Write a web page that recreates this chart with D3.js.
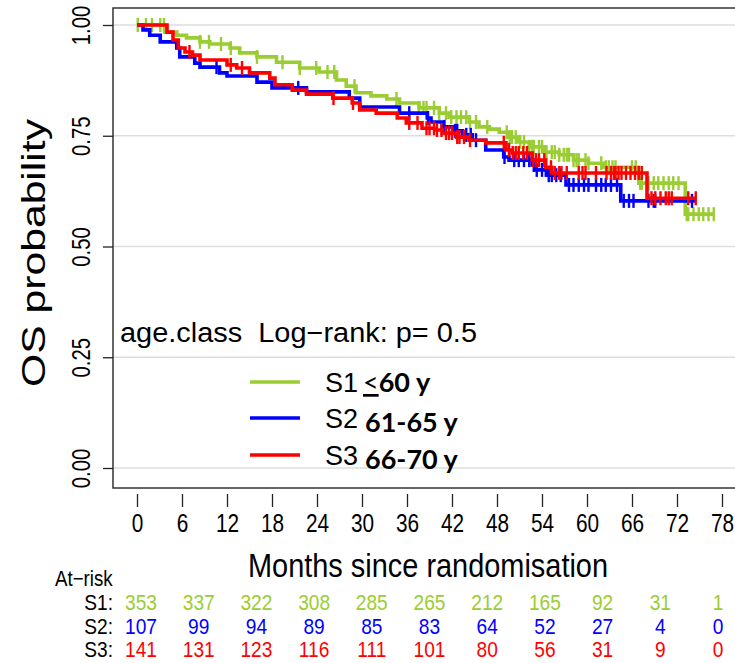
<!DOCTYPE html>
<html><head><meta charset="utf-8">
<script src="https://cdn.jsdelivr.net/npm/d3@7"></script>
<style>body{margin:0;background:#fff}text{font-family:"Liberation Sans",Arial,sans-serif;}</style>
</head><body>
<svg id="chart" width="735" height="663"></svg>
<script>
// ---- data ----
const seriesNames = ["S1", "S2", "S3"];
const seriesLabels = ["60 y", "61-65 y", "66-70 y"];
const seriesColors = ["#9ACD32", "#0000FF", "#FF0000"];

const s1Times = [0, 3.7, 5.3, 6.6, 8.4, 9.7, 12.4, 13.7, 16.0, 18.6, 21.7, 24.3, 26.6, 27.9, 29.2, 31.2, 33.3, 35.0, 37.6, 40.3, 41.6, 44.3, 45.6, 47.0, 48.3, 49.6, 50.9, 52.3, 54.3, 56.3, 58.2, 60.2, 62.2, 66.9, 73.1];
const s1Surv  = [1.000, 0.984, 0.977, 0.971, 0.962, 0.957, 0.948, 0.937, 0.928, 0.916, 0.903, 0.894, 0.876, 0.862, 0.847, 0.840, 0.833, 0.824, 0.813, 0.801, 0.792, 0.781, 0.770, 0.765, 0.758, 0.747, 0.736, 0.725, 0.713, 0.707, 0.695, 0.688, 0.679, 0.643, 0.573];
const s1End = 77.0;
const s1Censor = [0.1, 1.2, 2.0, 3.1, 3.6, 8.4, 9.6, 11.2, 12.5, 16.0, 19.4, 21.7, 23.9, 25.4, 26.3, 29.0, 34.6, 37.6, 38.2, 38.6, 39.6, 40.3, 41.2, 41.9, 42.6, 43.2, 43.9, 44.4, 45.2, 46.7, 49.3, 49.7, 50.0, 50.5, 51.1, 51.6, 52.3, 52.7, 52.9, 53.6, 54.0, 54.4, 54.6, 55.3, 55.7, 56.3, 56.9, 57.3, 57.6, 58.2, 58.6, 58.9, 59.8, 60.2, 61.9, 62.5, 62.9, 63.4, 63.8, 66.0, 66.5, 67.1, 67.3, 68.2, 68.9, 69.5, 70.2, 70.9, 71.5, 72.2, 73.3, 73.5, 74.2, 74.9, 75.5, 76.2, 76.9];

const s2Times = [0, 0.8, 1.7, 3.1, 5.3, 5.7, 7.7, 8.4, 11.0, 12.0, 16.0, 18.0, 22.6, 28.3, 29.7, 35.0, 38.7, 39.2, 40.7, 42.3, 43.4, 44.7, 46.5, 48.9, 49.6, 52.7, 53.2, 54.7, 57.2, 64.5];
const s2Surv  = [1.000, 0.989, 0.977, 0.962, 0.948, 0.928, 0.914, 0.905, 0.892, 0.885, 0.871, 0.858, 0.849, 0.835, 0.815, 0.801, 0.790, 0.781, 0.770, 0.761, 0.752, 0.740, 0.718, 0.702, 0.695, 0.684, 0.673, 0.661, 0.639, 0.603];
const s2End = 74.5;
const s2Censor = [10.6, 21.5, 36.3, 38.8, 41.0, 42.4, 42.7, 43.9, 44.5, 45.2, 49.0, 50.3, 50.9, 51.6, 52.3, 52.9, 53.3, 54.0, 54.5, 54.9, 55.3, 55.9, 56.5, 57.6, 58.2, 58.9, 59.6, 60.2, 61.2, 61.9, 62.5, 63.2, 64.0, 64.9, 65.6, 66.2, 68.2, 68.9, 69.1, 74.0];

const s3Times = [0, 4.0, 4.8, 5.5, 6.4, 7.4, 8.4, 12.0, 13.3, 15.0, 17.7, 18.4, 20.7, 22.6, 26.1, 28.7, 29.7, 31.9, 34.7, 35.9, 38.0, 39.9, 40.7, 42.6, 44.3, 46.5, 49.2, 50.0, 52.7, 54.5, 55.3, 68.0];
const s3Surv  = [1.000, 0.984, 0.966, 0.948, 0.939, 0.932, 0.921, 0.910, 0.903, 0.892, 0.880, 0.865, 0.853, 0.844, 0.835, 0.824, 0.808, 0.801, 0.790, 0.779, 0.767, 0.763, 0.756, 0.747, 0.740, 0.734, 0.718, 0.711, 0.695, 0.679, 0.666, 0.609];
const s3End = 74.6;
const s3Censor = [7.0, 12.5, 14.0, 26.2, 28.8, 36.3, 37.4, 38.6, 39.0, 39.6, 40.0, 40.6, 41.2, 41.6, 42.0, 42.7, 43.0, 43.6, 44.4, 48.9, 49.6, 50.1, 50.5, 50.9, 51.5, 52.0, 52.8, 53.2, 53.6, 54.3, 55.2, 55.7, 56.3, 56.6, 57.3, 58.9, 59.4, 59.8, 61.2, 62.6, 63.2, 63.6, 63.8, 64.2, 64.6, 65.2, 65.8, 66.4, 66.9, 67.3, 68.6, 69.1, 69.8, 70.5, 70.9, 71.3, 73.5, 74.5];

const xTicks = [0, 6, 12, 18, 24, 30, 36, 42, 48, 54, 60, 66, 72, 78];
const yTicks = [0, 0.25, 0.5, 0.75, 1];
const atRiskTimes = [0, 8, 16, 24, 32, 40, 48, 56, 64, 72, 80];
const atRiskS1 = [353, 337, 322, 308, 285, 265, 212, 165, 92, 31, 1];
const atRiskS2 = [107, 99, 94, 89, 85, 83, 64, 52, 27, 4, 0];
const atRiskS3 = [141, 131, 123, 116, 111, 101, 80, 56, 31, 9, 0];

const xTitle = "Months since randomisation";
const yTitle = "OS probability";
const annotation = "age.class  Log\u2212rank: p= 0.5";

// ---- drawing ----
const svg = d3.select("#chart");
const plotL = 113, plotT = 8, plotR = 740, plotB = 488;
const x = d3.scaleLinear().domain([0, 78]).range([137, 722]);
const y = d3.scaleLinear().domain([0, 1]).range([468, 25]);

// grid
svg.append("g").selectAll("line").data(yTicks).join("line")
  .attr("x1", plotL).attr("x2", plotR)
  .attr("y1", d => y(d)).attr("y2", d => y(d))
  .attr("stroke", "#dddddd").attr("stroke-width", 1.5);

// box
svg.append("rect").attr("x", plotL).attr("y", plotT)
  .attr("width", plotR - plotL).attr("height", plotB - plotT)
  .attr("fill", "none").attr("stroke", "#333").attr("stroke-width", 1.5);

// y axis
const gy = svg.append("g").attr("transform", `translate(${plotL},0)`)
  .call(d3.axisLeft(y).tickValues(yTicks).tickSize(10).tickFormat(d3.format(".2f")));
gy.select(".domain").remove();
gy.selectAll(".tick line").attr("stroke", "#222").attr("stroke-width", 1.3);
gy.selectAll(".tick text")
  .attr("x", 0).attr("y", -23).attr("dy", 0)
  .attr("text-anchor", "middle")
  .attr("transform", "rotate(-90) scale(0.78,1)")
  .attr("font-size", 26).attr("fill", "#000")
  .style("font-family", "'Liberation Sans', Arial, sans-serif");

// x axis
const gx = svg.append("g").attr("transform", `translate(0,494)`)
  .call(d3.axisBottom(x).tickValues(xTicks).tickSize(13));
gx.select(".domain").remove();
gx.selectAll(".tick line").attr("stroke", "#222").attr("stroke-width", 1.3);
gx.selectAll(".tick text")
  .attr("y", 38).attr("dy", 0)
  .attr("transform", "scale(0.8,1)")
  .attr("font-size", 26).attr("fill", "#000")
  .style("font-family", "'Liberation Sans', Arial, sans-serif");

// titles
svg.append("text").attr("x", 428).attr("y", 577).attr("text-anchor", "middle")
  .attr("font-size", 34).attr("textLength", 360).attr("lengthAdjust", "spacingAndGlyphs")
  .text(xTitle);
svg.append("text").attr("transform", "translate(45,253) rotate(-90)")
  .attr("text-anchor", "middle").attr("font-size", 33)
  .attr("textLength", 268).attr("lengthAdjust", "spacingAndGlyphs")
  .text(yTitle);

// curves
const series = [
  {times: s1Times, surv: s1Surv, end: s1End, censor: s1Censor, color: seriesColors[0]},
  {times: s2Times, surv: s2Surv, end: s2End, censor: s2Censor, color: seriesColors[1]},
  {times: s3Times, surv: s3Surv, end: s3End, censor: s3Censor, color: seriesColors[2]}
];
const line = d3.line().x(d => x(d[0])).y(d => y(d[1])).curve(d3.curveStepAfter);
function survAt(s, t) {
  let v = s.surv[0];
  for (let i = 0; i < s.times.length; i++) if (s.times[i] <= t) v = s.surv[i];
  return v;
}
series.forEach(s => {
  const pts = s.times.map((t, i) => [t, s.surv[i]]);
  pts.push([s.end, s.surv[s.surv.length - 1]]);
  const g = svg.append("g");
  g.append("path").attr("d", line(pts)).attr("fill", "none")
    .attr("stroke", s.color).attr("stroke-width", 3.6).attr("stroke-linejoin", "miter");
  g.selectAll("line").data(s.censor).join("line")
    .attr("x1", d => x(d)).attr("x2", d => x(d))
    .attr("y1", d => y(survAt(s, d)) - 7).attr("y2", d => y(survAt(s, d)) + 7)
    .attr("stroke", s.color).attr("stroke-width", 2.4);
});

// annotation
svg.append("text").attr("x", 120).attr("y", 342).attr("font-size", 27)
  .attr("textLength", 357).attr("lengthAdjust", "spacingAndGlyphs")
  .style("white-space", "pre").text(annotation);

// legend
const legY = [382, 418, 455];
const leg = svg.append("g");
seriesNames.forEach((n, i) => {
  leg.append("line").attr("x1", 250).attr("x2", 300).attr("y1", legY[i]).attr("y2", legY[i])
    .attr("stroke", seriesColors[i]).attr("stroke-width", 3.5);
  leg.append("text").attr("x", 325).attr("y", legY[i] + 10).attr("font-size", 27).text(n);
  const t = leg.append("text").attr("x", i === 0 ? 363 : 365).attr("y", legY[i] + (i === 0 ? 10 : 14))
    .attr("font-size", 27).style("font-family", "Lato, 'Open Sans', sans-serif").attr("font-weight", 700);
  if (i === 0) {
    t.append("tspan").attr("font-weight", 400).style("text-decoration", "underline").text("<");
    t.append("tspan").text(seriesLabels[i]);
  } else {
    t.text(seriesLabels[i]);
  }
});

// at-risk table
const xr = d3.scalePoint().domain(atRiskTimes).range([141, 718]);
svg.append("text").attr("transform", "translate(55,586) scale(0.85,1)")
  .attr("font-size", 22).text("At\u2212risk");
const rows = [atRiskS1, atRiskS2, atRiskS3];
const rowY = [610, 634, 657];
rows.forEach((r, i) => {
  svg.append("text").attr("transform", `translate(113,${rowY[i]}) scale(0.87,1)`)
    .attr("text-anchor", "end").attr("font-size", 22).text(seriesNames[i] + ":");
  svg.append("g").selectAll("text").data(r).join("text")
    .attr("transform", (d, j) => `translate(${xr(atRiskTimes[j])},${rowY[i]}) scale(0.87,1)`)
    .attr("text-anchor", "middle").attr("font-size", 22).attr("fill", seriesColors[i])
    .text(d => d);
});
</script>
</body></html>
